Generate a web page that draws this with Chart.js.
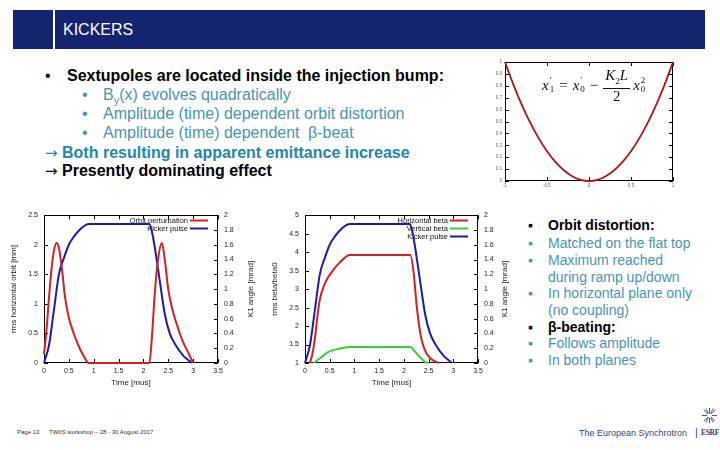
<!DOCTYPE html>
<html>
<head>
<meta charset="utf-8">
<title>KICKERS</title>
<script src="https://cdn.jsdelivr.net/npm/chart.js@4.4.1/dist/chart.umd.min.js"></script>
<style>
    body { margin: 0; width: 720px; height: 450px; position: relative; overflow: hidden; background: #fff;
           font-family: "Liberation Sans", Arial, sans-serif; }
    .abs { position: absolute; white-space: nowrap; }
    .ln { position: absolute; white-space: nowrap; font-size: 16px; height: 19px; line-height: 19px; }
    .rl { position: absolute; white-space: nowrap; font-size: 14px; height: 17px; line-height: 17px; }
    .arr { font-family: "DejaVu Sans", sans-serif; font-weight: normal; font-size: 15px; }
    .teal { color: #4696b4; }
    .teal2 { color: #1f86ad; }
    .box { position: absolute; }
    .formula { position: absolute; display: flex; align-items: center; font-family: "Liberation Serif", "DejaVu Serif", serif;
               font-size: 15px; color: #111; white-space: nowrap; }
    .ss { display: inline-flex; flex-direction: column; font-size: 9px; line-height: 9px; margin-left: 1px; }
    .op { margin: 0 5px; font-style: normal; }
    .frac { display: inline-flex; flex-direction: column; align-items: center; margin: 0 3px 0 0; }
    .num { border-bottom: 1px solid #111; padding: 0 2px; line-height: 14px; }
    .den { line-height: 14px; }
</style>
</head>
<body>

<div class="abs" style="left:13px;top:10px;width:692px;height:39px;background:#142470"></div>
<div class="abs" style="left:53px;top:10px;width:2px;height:39px;background:#fff"></div>
<div class="abs" style="left:63px;top:21px;font-size:16px;line-height:18px;color:#fff">KICKERS</div>

<div class="ln" style="left:45px;top:66px">•</div>
<div class="ln" style="left:67px;top:66px;font-weight:bold">Sextupoles are located inside the injection bump:</div>
<div class="ln teal" style="left:82px;top:85px">•</div>
<div class="ln teal" style="left:103px;top:85px">B<sub style="font-size:11px;line-height:0">y</sub>(x) evolves quadratically</div>
<div class="ln teal" style="left:82px;top:104px">•</div>
<div class="ln teal" style="left:103px;top:104px">Amplitude (time) dependent orbit distortion</div>
<div class="ln teal" style="left:82px;top:123px">•</div>
<div class="ln teal" style="left:103px;top:123px">Amplitude (time) dependent <span style="margin-left:4px">β-beat</span></div>
<div class="ln teal2" style="left:45px;top:143px;font-weight:bold"><span class="arr">→</span> Both resulting in apparent emittance increase</div>
<div class="ln" style="left:45px;top:161px;font-weight:bold"><span class="arr">→</span> Presently dominating effect</div>

<div class="rl" style="left:528px;top:217px">▪</div>
<div class="rl" style="left:548px;top:217px;font-weight:bold">Orbit distortion:</div>
<div class="rl teal" style="left:528px;top:235px">▪</div>
<div class="rl teal" style="left:548px;top:235px">Matched on the flat top</div>
<div class="rl teal" style="left:528px;top:252px">▪</div>
<div class="rl teal" style="left:548px;top:252px">Maximum reached</div>
<div class="rl teal" style="left:548px;top:269px">during ramp up/down</div>
<div class="rl teal" style="left:528px;top:285px">▪</div>
<div class="rl teal" style="left:548px;top:285px">In horizontal plane only</div>
<div class="rl teal" style="left:548px;top:302px">(no coupling)</div>
<div class="rl" style="left:528px;top:319px">▪</div>
<div class="rl" style="left:548px;top:319px;font-weight:bold">β-beating:</div>
<div class="rl teal" style="left:528px;top:335px">▪</div>
<div class="rl teal" style="left:548px;top:335px">Follows amplitude</div>
<div class="rl teal" style="left:528px;top:352px">▪</div>
<div class="rl teal" style="left:548px;top:352px">In both planes</div>

<div class="box" style="left:0;top:205px;width:262px;height:190px"><canvas id="chart_orbit"></canvas></div>
<div class="box" style="left:262px;top:205px;width:258px;height:190px"><canvas id="chart_beta"></canvas></div>
<div class="box" style="left:488px;top:55px;width:200px;height:140px"><canvas id="chart_kick"></canvas></div>

<div class="formula" style="left:542px;top:70px;height:30px">
    <i>x</i><span class="ss"><span>′</span><span>1</span></span>
    <span class="op">=</span>
    <i>x</i><span class="ss"><span>′</span><span>0</span></span>
    <span class="op">−</span>
    <span class="frac"><span class="num"><i>K</i><sub style="font-size:9px">2</sub><i>L</i></span><span class="den">2</span></span>
    <i>x</i><span class="ss"><span>2</span><span>0</span></span>
</div>

<div class="abs" style="left:17px;top:429px;font-size:6px;color:#333">Page 13</div>
<div class="abs" style="left:49px;top:429px;font-size:6px;color:#333">TWIIS workshop – 28 - 30 August 2017</div>
<div class="abs" style="left:579px;top:428px;font-size:9px;color:#3a4470">The European Synchrotron</div>
<div class="abs" style="left:695px;top:426px;font-size:11px;color:#3a4470">|</div>
<svg class="abs" style="left:701px;top:407px" width="17" height="18" viewBox="0 0 18 19">
    <g stroke="#3a4a86" stroke-width="1">
        <line x1="9" y1="1" x2="9" y2="17"/><line x1="1" y1="9" x2="17" y2="9"/>
        <line x1="3" y1="3" x2="15" y2="15"/><line x1="15" y1="3" x2="3" y2="15"/>
        <line x1="5" y1="1.5" x2="13" y2="16.5"/><line x1="13" y1="1.5" x2="5" y2="16.5"/>
    </g>
    <circle cx="9" cy="9" r="2.5" fill="#fff"/>
</svg>
<div class="abs" style="left:701px;top:428px;font-size:7.5px;letter-spacing:-0.3px;font-weight:bold;font-family:'Liberation Serif',serif;color:#2a3a7a">ESRF</div>

<script>
// left panel: rms orbit perturbation [mm] and kicker angle [mrad] vs time [mus]
const orbitTime = [0, 0.05, 0.1, 0.15, 0.2, 0.25, 0.3, 0.36, 0.42, 0.49, 0.59, 0.69, 0.79, 0.9,
                   2.12, 2.18, 2.23, 2.3, 2.37, 2.43, 2.5, 2.6, 2.7, 2.8, 2.9, 3.0];
const orbitRms = [0.15, 0.55, 1.1, 1.58, 1.9, 2.03, 1.95, 1.6, 1.13, 0.8, 0.52, 0.3, 0.13, 0,
                  0, 0.55, 1.2, 1.79, 2.03, 1.75, 1.24, 0.85, 0.58, 0.35, 0.18, 0];
const kickerTime = [0, 0.1, 0.2, 0.3, 0.4, 0.5, 0.6, 0.7, 0.8, 0.9,
                    2.12, 2.17, 2.22, 2.27, 2.32, 2.37, 2.43, 2.53, 2.65, 2.8, 2.9, 2.97];
const kickerAngle = [0, 0.24, 0.72, 1.2, 1.42, 1.6, 1.71, 1.79, 1.85, 1.88,
                     1.88, 1.78, 1.6, 1.38, 1.15, 0.92, 0.66, 0.4, 0.24, 0.1, 0.04, 0];

// middle panel: rms beta/beta0
const hBetaTime = [0.1, 0.15, 0.2, 0.25, 0.3, 0.4, 0.54, 0.71, 0.91, 2.13, 2.2, 2.26, 2.33, 2.39, 2.46, 2.56, 2.7];
const hBeta = [1.0, 1.25, 1.66, 2.25, 2.72, 3.15, 3.46, 3.73, 3.92, 3.92, 3.42, 2.54, 1.83, 1.48, 1.26, 1.1, 1.0];
const vBetaTime = [0.17, 0.3, 0.47, 0.67, 0.91, 2.13, 2.23, 2.33, 2.43, 2.5];
const vBeta = [1.0, 1.12, 1.3, 1.38, 1.43, 1.43, 1.3, 1.15, 1.03, 1.0];

// top right sketch: sextupole kick vs position
const kickX = [-1, -0.9, -0.8, -0.7, -0.6, -0.5, -0.4, -0.3, -0.2, -0.1, 0, 0.1, 0.2, 0.3, 0.4, 0.5, 0.6, 0.7, 0.8, 0.9, 1];
const kickY = [1, 0.81, 0.64, 0.49, 0.36, 0.25, 0.16, 0.09, 0.04, 0.01, 0, 0.01, 0.04, 0.09, 0.16, 0.25, 0.36, 0.49, 0.64, 0.81, 1];

const RED = '#d42020';
const BLUE = '#1c1caa';
const GREEN = '#3ccf3c';

Chart.defaults.font.family = '"Liberation Sans", Arial, sans-serif';
Chart.defaults.color = '#222';
Chart.defaults.animation = false;

function pts(xs, ys) {
    return xs.map((x, i) => ({x: x, y: ys[i]}));
}

// gnuplot style box with inward tick marks
const frame = {
    id: 'frame',
    beforeDatasetsDraw(chart) {
        const {ctx, chartArea: a, scales} = chart;
        ctx.save();
        ctx.strokeStyle = '#000';
        ctx.lineWidth = 1;
        ctx.strokeRect(Math.round(a.left) + 0.5, Math.round(a.top) + 0.5,
                       Math.round(a.right - a.left) - 1, Math.round(a.bottom - a.top) - 1);
        ctx.beginPath();
        Object.values(scales).forEach(s => {
            s.ticks.forEach(t => {
                const p = Math.round(s.getPixelForValue(t.value)) + 0.5;
                if (s.isHorizontal()) {
                    ctx.moveTo(p, a.bottom); ctx.lineTo(p, a.bottom - 4);
                    ctx.moveTo(p, a.top); ctx.lineTo(p, a.top + 4);
                } else if (s.position === 'left') {
                    ctx.moveTo(a.left, p); ctx.lineTo(a.left + 4, p);
                    if (!scales.y2) { ctx.moveTo(a.right, p); ctx.lineTo(a.right - 4, p); }
                } else {
                    ctx.moveTo(a.right, p); ctx.lineTo(a.right - 4, p);
                }
            });
        });
        ctx.stroke();
        ctx.restore();
    },
};

// key in the top right corner, text before the sample line
const key = {
    id: 'key',
    beforeDatasetsDraw(chart) {
        const {ctx, chartArea: a} = chart;
        ctx.save();
        ctx.font = '7.5px "Liberation Sans", Arial, sans-serif';
        ctx.textAlign = 'right';
        ctx.textBaseline = 'middle';
        chart.data.datasets.forEach((ds, i) => {
            const y = Math.round(a.top + 5 + i * 8) + 0.5;
            ctx.fillStyle = '#111';
            ctx.fillText(ds.label, a.right - 30, y);
            ctx.strokeStyle = ds.borderColor;
            ctx.lineWidth = 2;
            ctx.beginPath();
            ctx.moveTo(a.right - 28, y);
            ctx.lineTo(a.right - 10, y);
            ctx.stroke();
        });
        ctx.restore();
    },
};

// y2 label reading bottom to top
const sideTitle = {
    id: 'sideTitle',
    afterDraw(chart, args, opts) {
        if (!opts.text) return;
        const ctx = chart.ctx;
        const a = chart.chartArea;
        ctx.save();
        ctx.translate(opts.x, (a.top + a.bottom) / 2);
        ctx.rotate(-Math.PI / 2);
        ctx.font = '8px "Liberation Sans", Arial, sans-serif';
        ctx.fillStyle = '#222';
        ctx.textAlign = 'center';
        ctx.textBaseline = 'middle';
        ctx.fillText(opts.text, 0, 0);
        ctx.restore();
    },
};

function gnuAxis(position, min, max, step, size, title, titlePad, fontSize) {
    return {
        type    : 'linear',
        position: position,
        min     : min,
        max     : max,
        grid    : {display: false, drawTicks: false},
        border  : {display: false},
        ticks   : {
            stepSize   : step,
            autoSkip   : false,
            maxRotation: 0,
            padding    : position === 'bottom' ? 4 : 6,
            color      : '#222',
            font       : {size: fontSize || 7},
            callback   : v => String(Math.round(v * 100) / 100),
        },
        title   : title ? {
            display: true,
            text   : title,
            color  : '#222',
            font   : {size: 8},
            padding: position === 'bottom' ? {top: 0, bottom: titlePad} : {top: titlePad, bottom: 0},
        } : {display: false},
        afterFit: s => {
            if (position === 'bottom') s.height = size;
            else s.width = size;
        },
    };
}

function line(label, data, color, axis) {
    return {
        label                 : label,
        data                  : data,
        yAxisID               : axis,
        borderColor           : color,
        backgroundColor       : color,
        borderWidth           : 2,
        pointRadius           : 0,
        cubicInterpolationMode: 'monotone',
        clip                  : 3,
    };
}

function showOrbit() {
    return new Chart(document.getElementById('chart_orbit'), {
        type   : 'line',
        data   : {
            datasets: [
                line('Orbit perturbation', pts(orbitTime, orbitRms), RED, 'y'),
                line('Kicker pulse', pts(kickerTime, kickerAngle), BLUE, 'y2'),
            ],
        },
        options: {
            maintainAspectRatio: false,
            layout             : {padding: {top: 7, left: 0, right: 0, bottom: 0}},
            plugins            : {
                legend   : {display: false},
                tooltip  : {enabled: false},
                sideTitle: {text: 'K1 angle [mrad]', x: 251},
            },
            scales             : {
                x : gnuAxis('bottom', 0, 3.5, 0.5, 32, 'Time [mus]', 7),
                y : gnuAxis('left', 0, 2.5, 0.5, 44, 'rms horizontal orbit [mm]', 9),
                y2: gnuAxis('right', 0, 2, 0.2, 44),
            },
        },
        plugins: [frame, key, sideTitle],
    });
}

function showBeta() {
    return new Chart(document.getElementById('chart_beta'), {
        type   : 'line',
        data   : {
            datasets: [
                line('Horizontal beta', pts(hBetaTime, hBeta), RED, 'y'),
                line('Vertical beta', pts(vBetaTime, vBeta), GREEN, 'y'),
                line('Kicker pulse', pts(kickerTime, kickerAngle), BLUE, 'y2'),
            ],
        },
        options: {
            maintainAspectRatio: false,
            layout             : {padding: {top: 7, left: 0, right: 0, bottom: 0}},
            plugins            : {
                legend   : {display: false},
                tooltip  : {enabled: false},
                sideTitle: {text: 'K1 angle [mrad]', x: 243},
            },
            scales             : {
                x : gnuAxis('bottom', 0, 3.5, 0.5, 32, 'Time [mus]', 7),
                y : gnuAxis('left', 1, 5, 0.5, 43, 'rms beta/beta0', 8),
                y2: gnuAxis('right', 0, 2, 0.2, 42),
            },
        },
        plugins: [frame, key, sideTitle],
    });
}

function showKick() {
    const x = gnuAxis('bottom', -1, 1, 0.5, 14, null, 0, 4.5);
    const y = gnuAxis('left', 0, 1, 0.1, 17, null, 0, 4.5);
    x.ticks.padding = 2;
    y.ticks.padding = 3;
    x.ticks.color = y.ticks.color = '#666';
    return new Chart(document.getElementById('chart_kick'), {
        type   : 'line',
        data   : {
            datasets: [
                {
                    data       : pts(kickX, kickY),
                    borderColor: '#b01515',
                    borderWidth: 1.8,
                    pointRadius: 0,
                    tension    : 0.4,
                    clip       : 3,
                },
            ],
        },
        options: {
            maintainAspectRatio: false,
            layout             : {padding: {top: 7, left: 0, right: 15, bottom: 0}},
            plugins            : {
                legend : {display: false},
                tooltip: {enabled: false},
            },
            scales             : {x: x, y: y},
        },
        plugins: [frame],
    });
}

showOrbit();
showBeta();
showKick();
</script>
</body>
</html>
